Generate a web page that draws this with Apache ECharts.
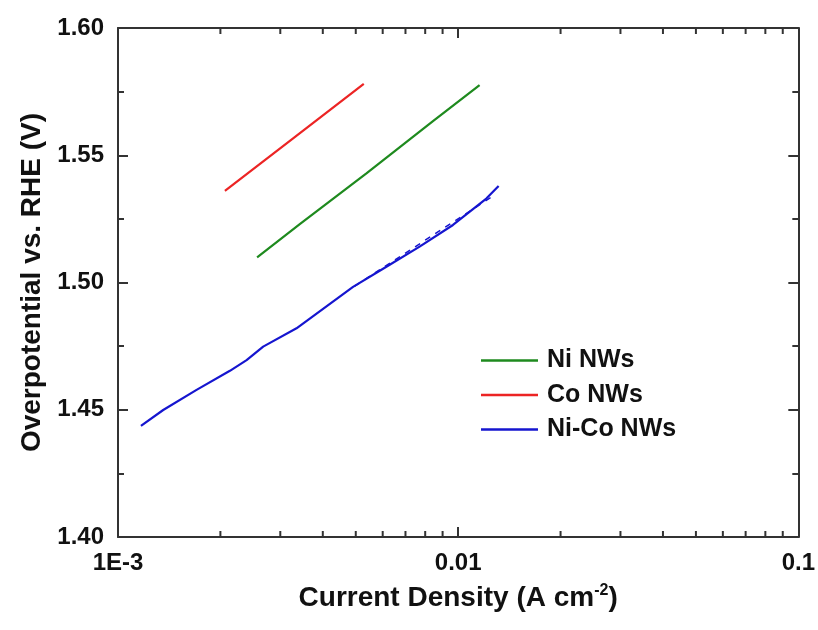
<!DOCTYPE html>
<html>
<head>
<meta charset="utf-8">
<script src="https://cdn.jsdelivr.net/npm/echarts@6/dist/echarts.min.js"></script>
<style>
  html, body { margin: 0; padding: 0; background: #fff; }
  #chart { width: 818px; height: 630px; }
</style>
</head>
<body>
<div id="chart"></div>
<script>
// Tafel plots: overpotential against current density (log scale)
const niX = [0.002564, 0.003423, 0.005374, 0.008433, 0.01156];
const niY = [1.5099, 1.5229, 1.5429, 1.5634, 1.5776];

const coX = [0.002062, 0.003272, 0.005279];
const coY = [1.5360, 1.5566, 1.5780];

const nicoX = [0.001168, 0.001358, 0.001702, 0.002133, 0.002388, 0.002672, 0.003348,
               0.004909, 0.006152, 0.007703, 0.009654, 0.0121, 0.01315];
const nicoY = [1.4437, 1.4499, 1.4578, 1.4653, 1.4695, 1.4748, 1.4820,
               1.4983, 1.5062, 1.5141, 1.5226, 1.5330, 1.5379];

// linear Tafel fit over the upper part of the Ni-Co curve
const fitX = [0.004966, 0.01254];
const fitY = [1.4986, 1.5336];

const xTickValues = [0.001, 0.01, 0.1];
const xTickLabels = ['1E-3', '0.01', '0.1'];
const xMinorTicks = [0.002, 0.003, 0.004, 0.005, 0.006, 0.007, 0.008, 0.009,
                     0.02, 0.03, 0.04, 0.05, 0.06, 0.07, 0.08, 0.09];

const seriesNames = ['Ni NWs', 'Co NWs', 'Ni-Co NWs'];
const colors = ['#1e8a1e', '#ec2424', '#1515cf'];

const pairs = (xs, ys) => xs.map((x, i) => [x, ys[i]]);

const FONT = '"Liberation Sans", Arial, sans-serif';
const AXIS_COLOR = '#333';
const TEXT_COLOR = '#111';

function xLabel(v) {
  const idx = xTickValues.findIndex(t => Math.abs(Math.log10(t) - Math.log10(v)) < 1e-6);
  return idx >= 0 ? xTickLabels[idx] : '';
}

const axisLine = { show: true, onZero: false, lineStyle: { color: AXIS_COLOR, width: 2 } };

const chart = echarts.init(document.getElementById('chart'), null, { renderer: 'canvas' });

chart.setOption({
  backgroundColor: '#fff',
  animation: false,
  grid: { left: 118, right: 19, top: 28, bottom: 93, containLabel: false },
  legend: {
    data: seriesNames,
    orient: 'vertical',
    left: 481,
    top: 348,
    padding: 0,
    icon: 'rect',
    itemWidth: 57,
    itemHeight: 2.5,
    itemGap: 9.5,
    textStyle: {
      fontFamily: FONT, fontSize: 25, fontWeight: 'bold', color: TEXT_COLOR,
      lineHeight: 25, padding: [0, 0, 0, 4]
    }
  },
  xAxis: [
    {
      type: 'log', logBase: 10, min: 0.001, max: 0.1,
      position: 'bottom',
      axisLine,
      axisTick: { show: true, inside: true, length: 10, lineStyle: { color: AXIS_COLOR, width: 2 } },
      axisLabel: {
        formatter: xLabel, margin: 14,
        fontFamily: FONT, fontSize: 24, fontWeight: 'bold', color: TEXT_COLOR
      },
      splitLine: { show: false },
      name: '{a|Current Density (A cm}{s|-2}{a|)}',
      nameLocation: 'middle',
      nameGap: 46,
      nameTextStyle: {
        rich: {
          a: { fontFamily: FONT, fontSize: 28, fontWeight: 'bold', color: TEXT_COLOR },
          s: { fontFamily: FONT, fontSize: 16, fontWeight: 'bold', color: TEXT_COLOR, verticalAlign: 'top', padding: [0, 0, 14, 0] }
        }
      }
    },
    {
      type: 'log', logBase: 10, min: 0.001, max: 0.1,
      position: 'top',
      axisLine,
      axisTick: { show: true, inside: true, length: 10, lineStyle: { color: AXIS_COLOR, width: 2 } },
      axisLabel: { show: false },
      splitLine: { show: false }
    }
  ],
  yAxis: [
    {
      type: 'value', min: 1.40, max: 1.60, interval: 0.05,
      position: 'left',
      axisLine,
      axisTick: { show: true, inside: true, length: 10, lineStyle: { color: AXIS_COLOR, width: 2 } },
      minorTick: { show: true, splitNumber: 2, length: 6, lineStyle: { color: AXIS_COLOR, width: 2 } },
      axisLabel: {
        formatter: v => v.toFixed(2), margin: 14,
        fontFamily: FONT, fontSize: 24, fontWeight: 'bold', color: TEXT_COLOR
      },
      splitLine: { show: false },
      name: 'Overpotential vs. RHE (V)',
      nameLocation: 'middle',
      nameGap: 71,
      nameTextStyle: { fontFamily: FONT, fontSize: 28, fontWeight: 'bold', color: TEXT_COLOR }
    },
    {
      type: 'value', min: 1.40, max: 1.60, interval: 0.05,
      position: 'right',
      axisLine,
      axisTick: { show: true, inside: true, length: 10, lineStyle: { color: AXIS_COLOR, width: 2 } },
      minorTick: { show: true, splitNumber: 2, length: 6, lineStyle: { color: AXIS_COLOR, width: 2 } },
      axisLabel: { show: false },
      splitLine: { show: false }
    }
  ],
  series: [
    {
      name: seriesNames[0], type: 'line', data: pairs(niX, niY),
      symbol: 'none', color: colors[0], lineStyle: { width: 2.2, color: colors[0] }
    },
    {
      name: seriesNames[1], type: 'line', data: pairs(coX, coY),
      symbol: 'none', color: colors[1], lineStyle: { width: 2.2, color: colors[1] }
    },
    {
      name: seriesNames[2], type: 'line', data: pairs(nicoX, nicoY),
      symbol: 'none', color: colors[2], lineStyle: { width: 2.2, color: colors[2] }
    },
    {
      name: 'fit', type: 'line', data: pairs(fitX, fitY),
      symbol: 'none', color: colors[2],
      lineStyle: { width: 1.5, color: colors[2], type: [6, 6] }
    },
    {
      // minor decade ticks on the bottom and top log axes
      name: 'minorTicks', type: 'custom',
      data: xMinorTicks.map(v => [v]),
      silent: true,
      clip: false,
      renderItem: (params, api) => {
        const v = api.value(0);
        const bottom = api.coord([v, 1.40]);
        const top = api.coord([v, 1.60]);
        const style = { stroke: AXIS_COLOR, lineWidth: 2 };
        return {
          type: 'group',
          children: [
            { type: 'line', shape: { x1: bottom[0], y1: bottom[1], x2: bottom[0], y2: bottom[1] - 6 }, style },
            { type: 'line', shape: { x1: top[0], y1: top[1], x2: top[0], y2: top[1] + 6 }, style }
          ]
        };
      }
    }
  ]
});
</script>
</body>
</html>
